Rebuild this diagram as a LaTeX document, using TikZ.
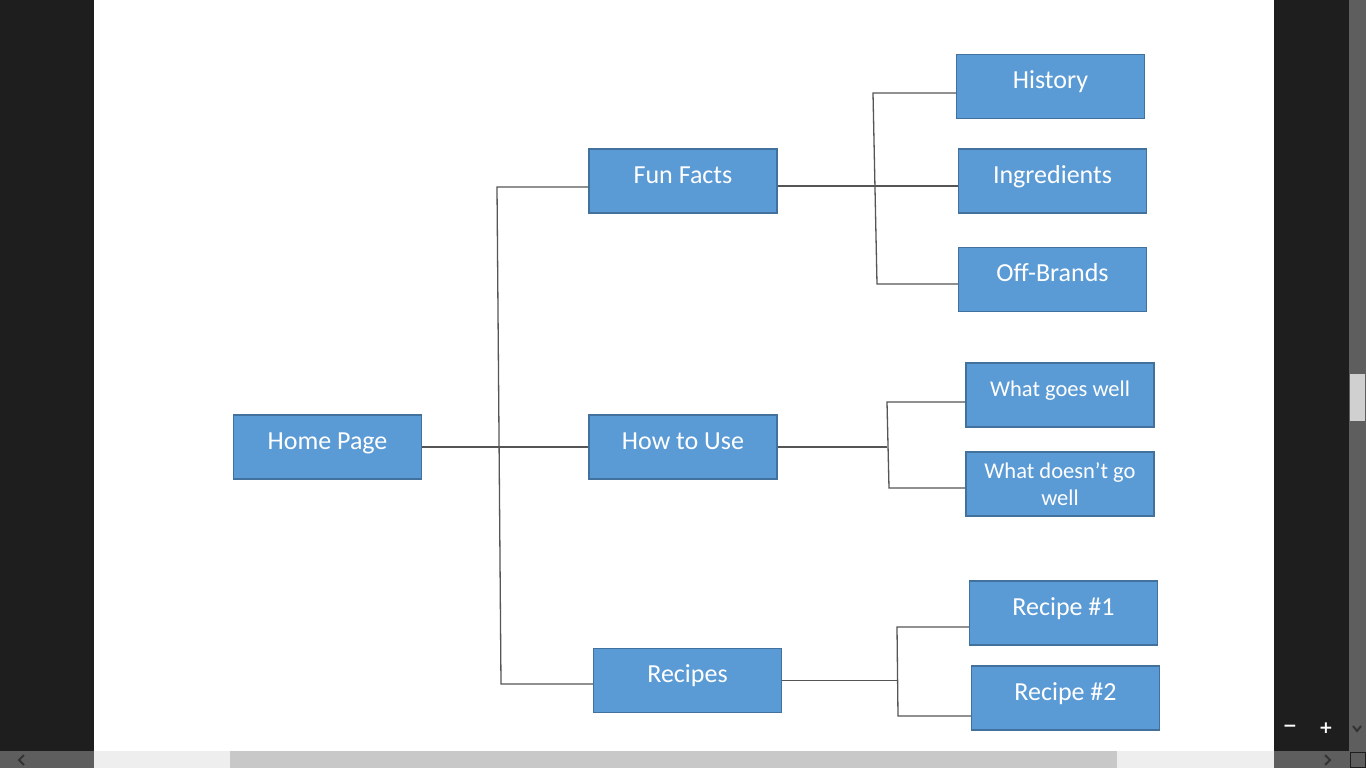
\documentclass[tikz,border=0pt]{standalone}
\usepackage{fontspec}
\setmainfont{Carlito}
\newfontfamily\dvfont{DejaVu Sans}
\definecolor{boxfill}{HTML}{5B9BD5}
\definecolor{boxline}{HTML}{41719C}
\definecolor{connc}{HTML}{555555}
\definecolor{darkbg}{HTML}{1E1E1E}
\definecolor{sbdark}{HTML}{5E5E5E}
\definecolor{sblight}{HTML}{EEEEEE}
\definecolor{sbthumb}{HTML}{C8C8C8}
\definecolor{vthumb}{HTML}{D0D0D0}
\definecolor{chev}{HTML}{333333}
\tikzset{
  pagebox/.style={draw=boxline, fill=boxfill, line width=1.5pt, minimum width=188pt,
    minimum height=64pt, inner sep=0pt, text=white,
    font=\fontsize{26}{30}\selectfont, text height=19pt, text depth=15pt},
  smallbox/.style={pagebox, font=\fontsize{22.5}{28}\selectfont, text height=17pt, text depth=15pt},
  conn/.style={draw=connc, line width=1.3pt},
  chevron/.style={draw=chev, line width=2pt},
  zoomsign/.style={text=white, font=\dvfont\bfseries\fontsize{17}{20}\selectfont, inner sep=0pt}
}
\begin{document}
\begin{tikzpicture}[x=1pt,y=-1pt]
\useasboundingbox (0,0) rectangle (1366,768);
% window background and page
\fill[darkbg] (0,0) rectangle (1366,768);
\fill[white] (94,0) rectangle (1274,751);
\fill[sbdark] (0,751) rectangle (94,768);
\fill[sblight] (94,751) rectangle (1274,768);
\fill[sbthumb] (230,751) rectangle (1117,768);
\fill[sbdark] (1274,751) rectangle (1366,768);
\fill[sbdark] (1349,0) rectangle (1366,751);
\fill[vthumb] (1350,374) rectangle (1365,421);
\draw[darkbg, line width=1pt] (1350,752) rectangle (1365,767);
\draw[chevron] (24,755) -- (19,760) -- (24,765);
\draw[chevron] (1325,755) -- (1330,760) -- (1325,765);
\draw[chevron] (1353,726) -- (1357,731) -- (1361,726);
\node[zoomsign] (zminus) at (1290,728) {−};
\node[zoomsign] (zplus) at (1326,728) {+};

% boxes
\node[pagebox] (home) at (327.5,447) {Home Page};
\node[pagebox] (fun) at (683,181) {Fun Facts};
\node[pagebox] (how) at (683,447) {How to Use};
\node[pagebox] (rec) at (687.5,680.5) {Recipes};
\node[pagebox] (hist) at (1050.5,86.5) {History};
\node[pagebox] (ingr) at (1052.5,181) {Ingredients};
\node[pagebox] (off) at (1052.5,279.5) {Off-Brands};
\node[smallbox] (wgw) at (1060,395) {What goes well};
\node[smallbox, align=center, text height=, text depth=] (wdg) at (1060,484) {What doesn’t go\\[-1pt]well};
\node[pagebox] (r1) at (1063.5,613) {Recipe \#1};
\node[pagebox] (r2) at (1065.5,698) {Recipe \#2};

% junctions
\coordinate (j0) at (497,187);
\coordinate (j0b) at (501,684);
\coordinate (jf) at (873,93);
\coordinate (jfb) at (877,284);
\coordinate (jh) at (887,402);
\coordinate (jhb) at (889,488);
\coordinate (jr) at (897,627);
\coordinate (jrb) at (898,716);

% connectors
\draw[conn] (home.east) -- (how.west);
\draw[conn] (fun.west |- j0) -- (j0) -- (j0b) -- (j0b -| rec.west);
\draw[conn] ([yshift=-5pt]fun.east) -- ([yshift=-5pt]fun.east -| ingr.west);
\draw[conn] (hist.west |- jf) -- (jf) -- (jfb) -- (jfb -| off.west);
\draw[conn] (how.east) -- (how.east -| jh);
\draw[conn] (wgw.west |- jh) -- (jh) -- (jhb) -- (jhb -| wdg.west);
\draw[conn] (rec.east) -- (rec.east -| jr);
\draw[conn] (r1.west |- jr) -- (jr) -- (jrb) -- (jrb -| r2.west);
\end{tikzpicture}
\end{document}
